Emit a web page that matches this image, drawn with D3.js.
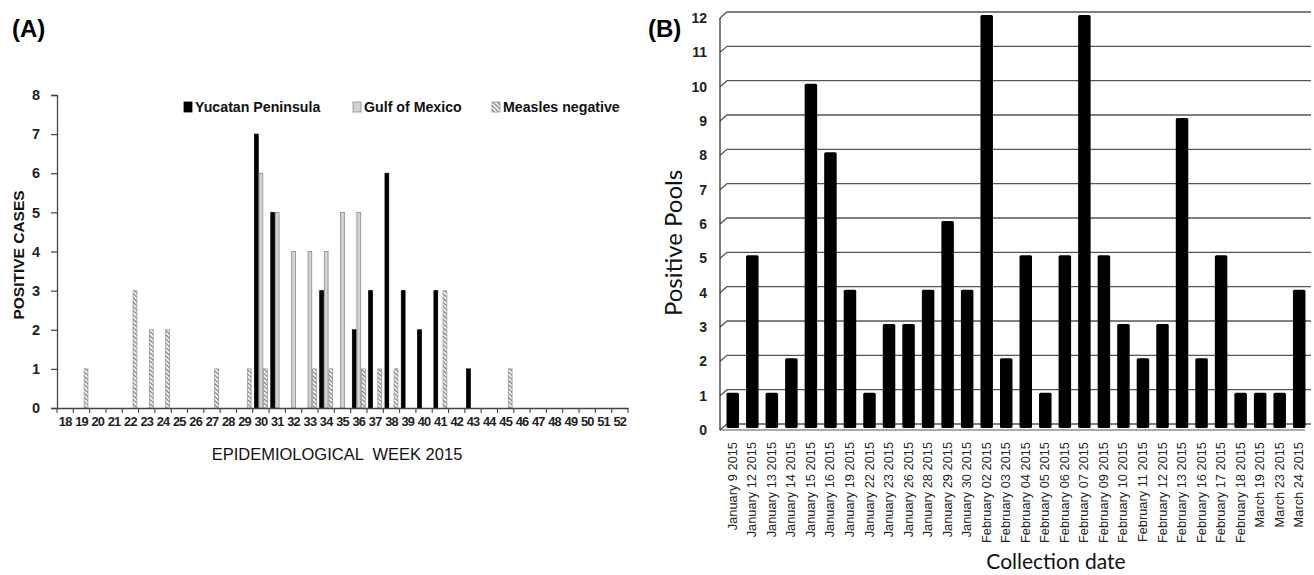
<!DOCTYPE html>
<html lang="en">
<head>
  <meta charset="UTF-8">
  <title>Measles cases and positive pools</title>
  <script src="https://d3js.org/d3.v7.min.js"></script>
  <style>
    body { margin: 0; background: #fff; }
    text { font-family: "Liberation Sans", Arial, sans-serif; }
  </style>
</head>
<body>
<div id="chart"></div>
<script>
  // ---- Panel A data: cases per epidemiological week ----
  const weeks = d3.range(18, 53);
  const yucatanCases = { 30: 7, 31: 5, 34: 3, 36: 2, 37: 3, 38: 6, 39: 3, 40: 2, 41: 3, 43: 1 };
  const gulfCases = { 30: 6, 31: 5, 32: 4, 33: 4, 34: 4, 35: 5, 36: 5 };
  const negativeCases = { 19: 1, 22: 3, 23: 2, 24: 2, 27: 1, 29: 1, 30: 1, 33: 1, 34: 1, 36: 1, 37: 1, 38: 1, 41: 3, 45: 1 };
  const seriesNames = ["Yucatan Peninsula", "Gulf of Mexico", "Measles negative"];

  // ---- Panel B data: positive pools per collection date ----
  const dates = ["January 9 2015", "January 12 2015", "January 13 2015", "January 14 2015", "January 15 2015",
    "January 16 2015", "January 19 2015", "January 22 2015", "January 23 2015", "January 26 2015",
    "January 28 2015", "January 29 2015", "January 30 2015", "February 02 2015", "February 03 2015",
    "February 04 2015", "February 05 2015", "February 06 2015", "February 07 2015", "February 09 2015",
    "February 10 2015", "February 11 2015", "February 12 2015", "February 13 2015", "February 16 2015",
    "February 17 2015", "February 18 2015", "March 19 2015", "March 23 2015", "March 24 2015"];
  const pools = [1, 5, 1, 2, 10, 8, 4, 1, 3, 3, 4, 6, 4, 12, 2, 5, 1, 5, 12, 5, 3, 2, 3, 9, 2, 5, 1, 1, 1, 4];

  const svg = d3.select("#chart").append("svg")
    .attr("width", 1314)
    .attr("height", 575);

  // hatch pattern for "Measles negative"
  const defs = svg.append("defs");
  defs.append("pattern")
    .attr("id", "hatch")
    .attr("patternUnits", "userSpaceOnUse")
    .attr("width", 3).attr("height", 3)
    .attr("patternTransform", "rotate(-45)")
    .append("rect")
    .attr("width", 1.2).attr("height", 3)
    .attr("fill", "#777");

  // ================= Panel A =================
  const ax = d3.scaleBand().domain(weeks).range([57, 628]).paddingInner(0.16).paddingOuter(0.08);
  const ay = d3.scaleLinear().domain([0, 8]).range([408, 95]);
  const inner = d3.scaleBand().domain(seriesNames).range([0, ax.bandwidth()]);

  const styles = {
    "Yucatan Peninsula": { fill: "#000", stroke: "#000" },
    "Gulf of Mexico": { fill: "#d2d2d2", stroke: "#8a8a8a" },
    "Measles negative": { fill: "url(#hatch)", stroke: "#9a9a9a" }
  };
  const lookup = {
    "Yucatan Peninsula": yucatanCases,
    "Gulf of Mexico": gulfCases,
    "Measles negative": negativeCases
  };

  const gA = svg.append("g");

  const barData = [];
  seriesNames.forEach(s => {
    weeks.forEach(w => {
      const v = lookup[s][w];
      if (v) barData.push({ s, w, v });
    });
  });

  gA.selectAll("rect.barA")
    .data(barData)
    .enter().append("rect")
    .attr("class", "barA")
    .attr("x", d => ax(d.w) + inner(d.s) + 0.4)
    .attr("y", d => ay(d.v))
    .attr("width", inner.bandwidth() - 0.8)
    .attr("height", d => ay(0) - ay(d.v))
    .attr("fill", d => styles[d.s].fill)
    .attr("stroke", d => styles[d.s].stroke)
    .attr("stroke-width", 0.8);

  // y axis
  const yAxisA = gA.append("g")
    .attr("transform", "translate(57,0)")
    .call(d3.axisLeft(ay).ticks(8).tickSize(6).tickPadding(11));
  yAxisA.select(".domain").attr("stroke", "#444").attr("stroke-width", 1.3);
  yAxisA.selectAll(".tick line").attr("stroke", "#444").attr("stroke-width", 1.2);
  yAxisA.selectAll("text")
    .attr("font-size", 14.5).attr("font-weight", "bold").attr("fill", "#222")
    .style("font-family", "'Liberation Sans', Arial, sans-serif");

  // x axis: tick marks between categories
  const xAxisA = gA.append("g")
    .attr("transform", "translate(0,408)")
    .call(d3.axisBottom(ax).tickSize(0).tickPadding(9));
  xAxisA.select(".domain").attr("stroke", "#444").attr("stroke-width", 1.3);
  xAxisA.selectAll("text")
    .attr("font-size", 12.8).attr("font-weight", "bold").attr("fill", "#222")
    .attr("letter-spacing", -0.8)
    .style("font-family", "'Liberation Sans', Arial, sans-serif");
  const bounds = weeks.map(w => ax(w) - ax.step() * ax.paddingInner() / 2).concat([628]);
  gA.selectAll("line.sepA")
    .data(bounds)
    .enter().append("line")
    .attr("class", "sepA")
    .attr("x1", d => d).attr("x2", d => d)
    .attr("y1", 408).attr("y2", 413)
    .attr("stroke", "#444").attr("stroke-width", 1.1);

  // titles
  gA.append("text")
    .attr("transform", "translate(24,255) rotate(-90)")
    .attr("text-anchor", "middle")
    .attr("font-size", 15.5).attr("font-weight", "bold").attr("fill", "#111")
    .text("POSITIVE CASES");

  gA.append("text")
    .attr("x", 337).attr("y", 460)
    .attr("text-anchor", "middle")
    .attr("font-size", 16.5).attr("fill", "#111")
    .style("white-space", "pre")
    .text("EPIDEMIOLOGICAL  WEEK 2015");

  // legend
  const legendX = [184, 353, 492];
  const legend = gA.selectAll("g.legA")
    .data(seriesNames)
    .enter().append("g")
    .attr("class", "legA")
    .attr("transform", (d, i) => `translate(${legendX[i]},102)`);
  legend.append("rect")
    .attr("width", 8).attr("height", 10)
    .attr("fill", d => styles[d].fill)
    .attr("stroke", d => styles[d].stroke)
    .attr("stroke-width", 0.8);
  legend.append("text")
    .attr("x", 11).attr("y", 10)
    .attr("font-size", 14.2).attr("font-weight", "bold").attr("fill", "#111")
    .text(d => d);

  svg.append("text")
    .attr("x", 12).attr("y", 37)
    .attr("font-size", 24).attr("font-weight", "bold")
    .text("(A)");

  // ================= Panel B =================
  const bx = d3.scaleBand().domain(dates).range([723, 1309]).paddingInner(0.36).paddingOuter(0.18);
  const by = d3.scaleLinear().domain([0, 12]).range([430, 18]);
  const depthX = 7, depthY = 6;
  const gB = svg.append("g");

  const ticksB = d3.range(0, 13);
  // back-wall gridlines with a short side-wall diagonal
  gB.selectAll("path.gridB")
    .data(ticksB)
    .enter().append("path")
    .attr("class", "gridB")
    .attr("d", d => `M720,${by(d)} L${720 + depthX},${by(d) - depthY} L1311,${by(d) - depthY}`)
    .attr("fill", "none")
    .attr("stroke", "#555")
    .attr("stroke-width", 1.3);

  // side wall edge
  gB.append("line")
    .attr("x1", 720).attr("x2", 720)
    .attr("y1", by(0)).attr("y2", by(12))
    .attr("stroke", "#333").attr("stroke-width", 1.3);

  // floor front edge
  gB.append("line")
    .attr("x1", 720).attr("x2", 1305)
    .attr("y1", by(0)).attr("y2", by(0))
    .attr("stroke", "#555").attr("stroke-width", 1.2);

  // bars (sit half-way into the depth)
  gB.selectAll("rect.barB")
    .data(pools)
    .enter().append("rect")
    .attr("class", "barB")
    .attr("x", (d, i) => bx(dates[i]))
    .attr("y", d => by(d) - depthY / 2)
    .attr("width", bx.bandwidth())
    .attr("height", d => by(0) - by(d) + depthY / 2 - 2)
    .attr("rx", 1.5)
    .attr("fill", "#000");

  // y tick labels
  gB.selectAll("text.ytickB")
    .data(ticksB)
    .enter().append("text")
    .attr("class", "ytickB")
    .attr("x", 707)
    .attr("y", d => by(d) + 5)
    .attr("text-anchor", "end")
    .attr("font-size", 14).attr("font-weight", "bold").attr("fill", "#222")
    .text(d => d);

  // x tick labels (rotated)
  gB.selectAll("text.xtickB")
    .data(dates)
    .enter().append("text")
    .attr("class", "xtickB")
    .attr("transform", d => `translate(${bx(d) + bx.bandwidth() / 2 + 4},442) rotate(-90)`)
    .attr("text-anchor", "end")
    .attr("font-size", 12.8).attr("fill", "#222")
    .text(d => d);

  gB.append("text")
    .attr("transform", "translate(682,243) rotate(-90)")
    .attr("text-anchor", "middle")
    .attr("font-size", 24).attr("fill", "#111")
    .style("font-family", "Lato, 'Open Sans', sans-serif")
    .text("Positive Pools");

  gB.append("text")
    .attr("x", 1056).attr("y", 569)
    .attr("text-anchor", "middle")
    .attr("font-size", 21).attr("fill", "#111")
    .style("font-family", "Lato, 'Open Sans', sans-serif")
    .text("Collection date");

  svg.append("text")
    .attr("x", 648).attr("y", 37)
    .attr("font-size", 24).attr("font-weight", "bold")
    .text("(B)");
</script>
</body>
</html>
